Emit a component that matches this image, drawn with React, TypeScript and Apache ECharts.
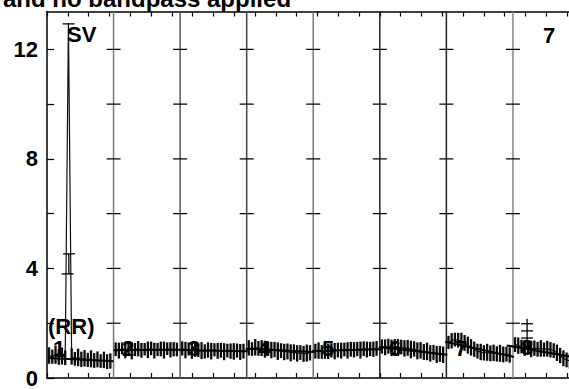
import React, { useEffect, useRef } from 'react';
import * as echarts from 'echarts';

// ---- axis / layout data ----
const xMax = 25.6;
const yMax = 13.38;
const yLabelValues = [0, 4, 8, 12];
const crossYs = [2, 4, 6, 8, 10, 12];
const panelBounds = [3.2, 6.4, 9.6, 12.8, 16.0, 19.2, 22.4];
const boundColors = ['#777777', '#555555', '#444444', '#777777', '#222222', '#222222', '#888888'];
const sampleOffset = 0.1;
const sampleStep = 0.155;

// ---- series values (one array per panel) ----
const p1 = [0.82, 0.78, 0.85, 0.76, 0.8, 0.74, 12.95, 0.79, 0.7, 0.75, 0.68, 0.72, 0.66, 0.7, 0.64, 0.68, 0.62, 0.66, 0.6, 0.62];
const p2 = [1.05, 1.0, 1.08, 1.02, 1.06, 0.99, 1.04, 1.07, 1.01, 1.05, 1.03, 1.08, 1.0, 1.04, 1.06, 1.02, 1.07, 1.03, 1.05, 1.04];
const p3 = [1.08, 1.02, 1.06, 0.99, 1.04, 1.01, 1.0, 0.97, 1.02, 0.98, 1.03, 0.99, 1.01, 0.96, 1.0, 0.98, 0.97, 1.0, 0.95, 0.98];
const p4 = [1.1, 1.06, 1.12, 1.08, 1.09, 1.05, 1.07, 1.02, 1.04, 0.98, 1.0, 0.95, 0.97, 0.92, 0.95, 0.9, 0.93, 0.88, 0.91, 0.92];
const p5 = [0.98, 1.0, 0.95, 0.99, 0.97, 1.01, 0.98, 1.02, 1.0, 1.04, 1.01, 1.05, 1.03, 1.06, 1.02, 1.07, 1.04, 1.06, 1.05, 1.08];
const p6 = [1.15, 1.12, 1.16, 1.1, 1.14, 1.11, 1.13, 1.08, 1.1, 1.04, 1.06, 0.99, 1.01, 0.95, 0.97, 0.9, 0.93, 0.86, 0.88, 0.85];
const p7 = [1.3, 1.36, 1.4, 1.38, 1.35, 1.28, 1.2, 1.12, 1.05, 0.98, 0.95, 0.92, 0.94, 0.9, 0.92, 0.88, 0.9, 0.86, 0.87, 0.84];
const p8 = [1.22, 1.18, 1.15, 1.1, 1.12, 1.06, 1.09, 1.05, 1.08, 1.04, 1.07, 1.03, 1.0, 0.92, 0.82, 0.72, 0.66, 0.62, 0.6, 0.58];

// ---- error bar half-heights ----
const e1 = [0.3, 0.26, 0.33, 0.28, 0.31, 0.27, 0, 0.3, 0.25, 0.32, 0.28, 0.3, 0.26, 0.31, 0.27, 0.29, 0.25, 0.3, 0.27, 0.28];
const e2 = [0.25, 0.29, 0.22, 0.3, 0.26, 0.31, 0.24, 0.28, 0.27, 0.23, 0.3, 0.25, 0.29, 0.24, 0.27, 0.31, 0.23, 0.28, 0.26, 0.25];
const e3 = [0.26, 0.3, 0.24, 0.29, 0.27, 0.25, 0.31, 0.26, 0.28, 0.3, 0.24, 0.29, 0.27, 0.31, 0.25, 0.28, 0.3, 0.26, 0.29, 0.27];
const e4 = [0.28, 0.25, 0.3, 0.27, 0.29, 0.31, 0.26, 0.3, 0.28, 0.32, 0.27, 0.3, 0.29, 0.31, 0.28, 0.3, 0.27, 0.29, 0.31, 0.28];
const e5 = [0.27, 0.3, 0.25, 0.29, 0.28, 0.26, 0.3, 0.27, 0.29, 0.25, 0.3, 0.27, 0.28, 0.26, 0.31, 0.27, 0.29, 0.26, 0.28, 0.27];
const e6 = [0.26, 0.29, 0.27, 0.3, 0.28, 0.31, 0.27, 0.3, 0.29, 0.32, 0.28, 0.31, 0.3, 0.29, 0.32, 0.3, 0.28, 0.31, 0.29, 0.3];
const e7 = [0.24, 0.28, 0.25, 0.27, 0.3, 0.29, 0.31, 0.3, 0.28, 0.27, 0.3, 0.28, 0.31, 0.29, 0.3, 0.28, 0.31, 0.29, 0.27, 0.28];
const e8 = [0.27, 0.3, 0.25, 0.29, 0.26, 0.3, 0.28, 0.27, 0.3, 0.26, 0.29, 0.28, 0.27, 0.3, 0.28, 0.29, 0.27, 0.28, 0.26, 0.27];

// per-panel trend lines [x0, y0, x1, y1]
const fitLines = [
  [0.05, 0.73, 3.2, 0.61],
  [3.2, 1.01, 6.45, 1.03],
  [6.35, 1.02, 9.65, 0.98],
  [9.55, 1.07, 12.85, 0.95],
  [12.75, 0.99, 16.05, 1.05],
  [15.95, 1.13, 19.25, 0.85],
  [19.15, 1.32, 22.45, 0.77],
  [22.1, 1.19, 25.6, 0.72],
];

// extra error caps [x, y] and vertical segments [x, y0, y1]
const capMarks = [[1.04, 12.93], [1.06, 4.53], [0.99, 3.8], [23.08, 1.98], [23.08, 1.72], [23.08, 1.46]];
const spikeSegments = [[1.05, 3.8, 4.53], [23.08, 1.1, 2.16]];

// annotations [x, y, text]
const textLabels: [number, number, string][] = [
  [0.96, 12.53, 'SV'],
  [23.85, 12.49, '7'],
  [0.05, 1.88, '(RR)'],
  [0.29, 1.08, '1'],
  [3.61, 1.07, '2'],
  [6.78, 1.07, '3'],
  [10.14, 1.07, '4'],
  [13.22, 1.07, '5'],
  [16.44, 1.07, '6'],
  [19.62, 1.07, '7'],
  [22.79, 1.11, '8'],
];

const titleText = 'and no bandpass applied';

const panels = [p1, p2, p3, p4, p5, p6, p7, p8];
const errs = [e1, e2, e3, e4, e5, e6, e7, e8];
const panelStarts = [0, ...panelBounds];

const FONT = '"Liberation Sans", Arial, sans-serif';

export default function App() {
  const ref = useRef<HTMLDivElement>(null);
  useEffect(() => {
    if (!ref.current) return;
    const chart = echarts.init(ref.current, undefined, { renderer: 'svg' });

    const errData: number[][] = [];
    panels.forEach((vals, p) => {
      vals.forEach((v, i) => {
        errData.push([panelStarts[p] + sampleOffset + i * sampleStep, v, errs[p][i]]);
      });
    });

    const lineSeries = panels.map((vals, p) => ({
      type: 'line',
      data: vals.map((v, i) => [panelStarts[p] + sampleOffset + i * sampleStep, v]),
      showSymbol: false,
      symbol: 'none',
      lineStyle: { color: '#111', width: 1.2 },
      z: 3,
      clip: true,
      silent: true,
    }));

    const option: any = {
      animation: false,
      grid: { left: 47, top: 11.5, right: 0.5, bottom: 9.5, containLabel: false },
      xAxis: [
        {
          type: 'value', min: 0, max: xMax, interval: 1, position: 'bottom',
          axisLine: { show: true, lineStyle: { color: '#000', width: 1.5 } },
          axisTick: { show: true, inside: true, length: 5, lineStyle: { color: '#000', width: 1.2 } },
          axisLabel: { show: false }, splitLine: { show: false },
        },
        {
          type: 'value', min: 0, max: xMax, interval: 1, position: 'top',
          axisLine: { show: true, onZero: false, lineStyle: { color: '#000', width: 1.5 } },
          axisTick: { show: true, inside: true, length: 5, lineStyle: { color: '#000', width: 1.2 } },
          axisLabel: { show: false }, splitLine: { show: false },
        },
      ],
      yAxis: {
        type: 'value', min: 0, max: yMax, interval: 2,
        axisLine: { show: true, lineStyle: { color: '#000', width: 1.5 } },
        axisTick: { show: true, inside: true, length: 7, lineStyle: { color: '#000', width: 1.2 } },
        splitLine: { show: false },
        axisLabel: {
          show: true, margin: 9, color: '#000', fontSize: 22, fontWeight: 'bold', fontFamily: FONT,
          showMaxLabel: false,
          formatter: (v: number) => (yLabelValues.includes(v) ? String(v) : ''),
        },
      },
      graphic: [
        {
          type: 'text', x: 3, y: -2,
          style: { text: titleText, fill: '#000', fontSize: 24, fontWeight: 'bold', fontFamily: FONT, verticalAlign: 'middle', align: 'left' },
        },
      ],
      series: [
        {
          type: 'custom', name: 'bounds', coordinateSystem: 'cartesian2d', clip: true, z: 2, silent: true,
          data: panelBounds.map((b, i) => [b, i]),
          encode: { x: 0, y: 1 },
          renderItem: (params: any, api: any) => {
            const b = api.value(0);
            const i = params.dataIndex;
            const col = boundColors[i];
            const p0 = api.coord([b, 0]);
            const p1c = api.coord([b, yMax]);
            const children: any[] = [
              { type: 'line', shape: { x1: p0[0], y1: p0[1], x2: p1c[0], y2: p1c[1] }, style: { stroke: col, lineWidth: 1.5 } },
            ];
            crossYs.forEach((cy) => {
              const c = api.coord([b, cy]);
              children.push({ type: 'line', shape: { x1: c[0] - 7, y1: c[1], x2: c[0] + 7, y2: c[1] }, style: { stroke: '#000', lineWidth: 1.2 } });
            });
            return { type: 'group', children };
          },
        },
        {
          type: 'custom', name: 'errorbars', coordinateSystem: 'cartesian2d', clip: true, z: 4, silent: true,
          data: errData,
          encode: { x: 0, y: 1 },
          renderItem: (params: any, api: any) => {
            const x = api.value(0), y = api.value(1), e = api.value(2);
            if (!e) return null;
            const t = api.coord([x, y + e]);
            const bt = api.coord([x, y - e]);
            return { type: 'line', shape: { x1: t[0], y1: t[1], x2: bt[0], y2: bt[1] }, style: { stroke: '#0a0a0a', lineWidth: 2.3 } };
          },
        },
        ...lineSeries,
        {
          type: 'custom', name: 'fits', coordinateSystem: 'cartesian2d', clip: true, z: 5, silent: true,
          data: fitLines,
          encode: { x: [0, 2], y: [1, 3] },
          renderItem: (params: any, api: any) => {
            const a = api.coord([api.value(0), api.value(1)]);
            const b = api.coord([api.value(2), api.value(3)]);
            return { type: 'line', shape: { x1: a[0], y1: a[1], x2: b[0], y2: b[1] }, style: { stroke: '#000', lineWidth: 2 } };
          },
        },
        {
          type: 'custom', name: 'spikes', coordinateSystem: 'cartesian2d', clip: true, z: 5, silent: true,
          data: spikeSegments,
          encode: { x: 0, y: [1, 2] },
          renderItem: (params: any, api: any) => {
            const a = api.coord([api.value(0), api.value(1)]);
            const b = api.coord([api.value(0), api.value(2)]);
            return { type: 'line', shape: { x1: a[0], y1: a[1], x2: b[0], y2: b[1] }, style: { stroke: '#000', lineWidth: 1.3 } };
          },
        },
        {
          type: 'custom', name: 'caps', coordinateSystem: 'cartesian2d', clip: true, z: 5, silent: true,
          data: capMarks,
          encode: { x: 0, y: 1 },
          renderItem: (params: any, api: any) => {
            const c = api.coord([api.value(0), api.value(1)]);
            return { type: 'line', shape: { x1: c[0] - 6, y1: c[1], x2: c[0] + 6, y2: c[1] }, style: { stroke: '#000', lineWidth: 1.3 } };
          },
        },
        {
          type: 'custom', name: 'labels', coordinateSystem: 'cartesian2d', clip: false, z: 10, silent: true,
          data: textLabels.map((t) => [t[0], t[1]]),
          encode: { x: 0, y: 1 },
          renderItem: (params: any, api: any) => {
            const c = api.coord([api.value(0), api.value(1)]);
            return {
              type: 'text', x: c[0], y: c[1],
              style: { text: textLabels[params.dataIndex][2], fill: '#000', fontSize: 22, fontWeight: 'bold', fontFamily: FONT, align: 'left', verticalAlign: 'middle' },
            };
          },
        },
      ],
    };
    chart.setOption(option);
    return () => chart.dispose();
  }, []);
  return <div ref={ref} style={{ position: 'fixed', left: 0, top: 0, width: 580, height: 389, background: '#fff' }} />;
}
